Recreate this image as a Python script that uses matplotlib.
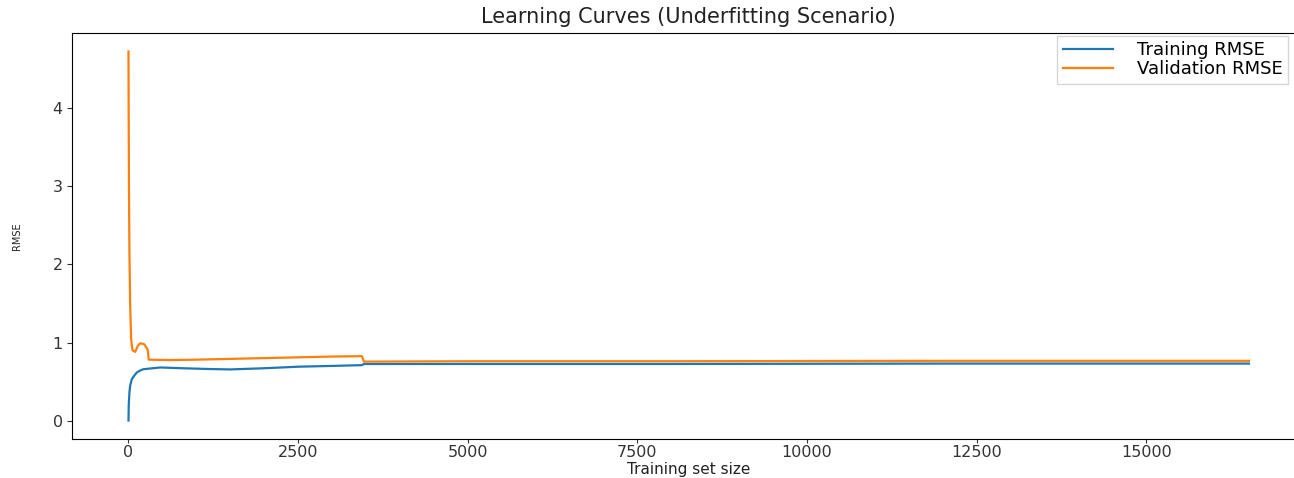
import matplotlib
matplotlib.use("Agg")
import matplotlib.pyplot as plt

# Training-set sizes and RMSE values along the learning curves
train_sizes = [1, 5, 15, 25, 50, 90, 124, 170, 221, 300, 470, 800, 1200,
               1500, 2000, 2500, 3000, 3440, 3470, 5000, 8000, 12000, 16512]
train_rmse = [0.0, 0.20, 0.36, 0.445, 0.53, 0.58, 0.616, 0.64, 0.658, 0.665,
              0.68, 0.67, 0.66, 0.655, 0.67, 0.69, 0.70, 0.71, 0.725, 0.725,
              0.725, 0.73, 0.73]

val_sizes = [1, 3, 8, 15, 25, 40, 60, 100, 140, 175, 230, 270, 285, 300,
             600, 1000, 1500, 2000, 2500, 3000, 3440, 3470, 5000, 8000,
             12000, 16512]
val_rmse = [4.73, 4.10, 3.00, 2.14, 1.51, 1.04, 0.90, 0.88, 0.96, 0.99, 0.98,
            0.93, 0.90, 0.78, 0.775, 0.78, 0.79, 0.80, 0.81, 0.82, 0.825,
            0.755, 0.76, 0.76, 0.765, 0.765]

x_ticks = [0, 2500, 5000, 7500, 10000, 12500, 15000]
y_ticks = [0, 1, 2, 3, 4]

fig = plt.figure(figsize=(12.94, 4.78), dpi=100)
ax = fig.add_axes([0.056, 0.0816, 0.9525, 0.8494])

ax.plot(train_sizes, train_rmse, color="tab:blue", linewidth=1.6,
        label="Training RMSE")
ax.plot(val_sizes, val_rmse, color="tab:orange", linewidth=1.6,
        label="Validation RMSE")

ax.set_xticks(x_ticks)
ax.set_yticks(y_ticks)
ax.tick_params(labelsize=11.5, colors="#333333")
ax.tick_params(axis="x", length=3, pad=1.5)

ax.set_title("Learning Curves (Underfitting Scenario)", fontsize=15,
             color="#222222", pad=7)
ax.set_xlabel("Training set size", fontsize=11, color="#222222")
ax.xaxis.set_label_coords(0.5, -0.056)
ax.set_ylabel("RMSE", fontsize=7, color="#222222")
ax.yaxis.set_label_coords(-0.041, 0.5)

fig.legend(loc="upper right", bbox_to_anchor=(1288 / 1294, 1 - 36 / 478),
           borderaxespad=0, fontsize=13, labelspacing=0.05, borderpad=0.3,
           handlelength=2.8, handletextpad=1.3, framealpha=0.8,
           edgecolor="#cccccc", fancybox=False)

fig.savefig("out.png", dpi=100)
